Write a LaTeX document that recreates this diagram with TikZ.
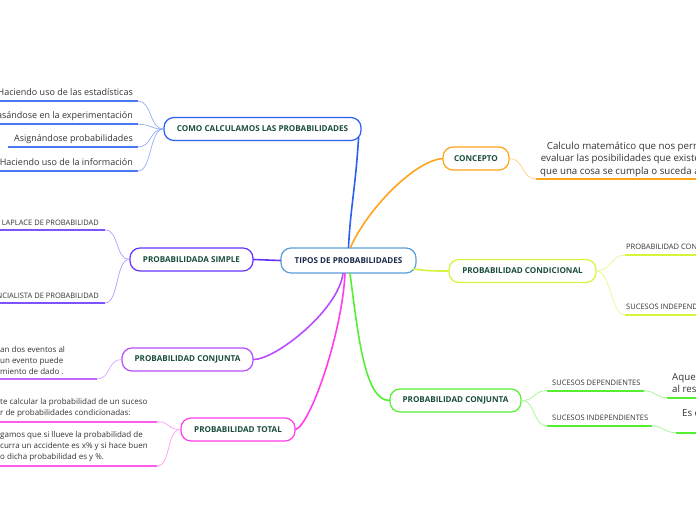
\documentclass[tikz,border=0pt]{standalone}
\usepackage{fontspec}
\setmainfont{Open Sans}
\usetikzlibrary{positioning,calc}
\definecolor{rootblue}{HTML}{5A9FD6}
\definecolor{roottext}{HTML}{1B2A4A}
\definecolor{topictext}{HTML}{1B4D3E}
\definecolor{leafgray}{HTML}{333333}
\definecolor{calcblue}{HTML}{2A5FF0}
\definecolor{concorange}{HTML}{FFA31A}
\definecolor{condyellow}{HTML}{D4F53C}
\definecolor{conjgreen}{HTML}{55EE33}
\definecolor{simpindigo}{HTML}{6633FF}
\definecolor{conjviolet}{HTML}{B84DFF}
\definecolor{totmagenta}{HTML}{FF3DEB}

\begin{document}
\begin{tikzpicture}[
    x=1pt, y=-1pt,
    topicbox/.style={rectangle, draw, fill=white, rounded corners=10pt, line width=1.2pt,
                     minimum height=23pt, inner xsep=6pt, text=topictext,
                     font=\fontsize{8.1}{9}\selectfont\bfseries},
    leaftext/.style={inner sep=0pt, text=leafgray, font=\fontsize{9}{10}\selectfont},
    bigleaf/.style={leaftext, font=\fontsize{9.7}{12}\selectfont},
    capleaf/.style={leaftext, font=\fontsize{7.5}{8}\selectfont},
    paraleaf/.style={leaftext, align=left, font=\fontsize{8}{11}\selectfont},
    branch/.style={line width=1.6pt, line cap=round},
    twig/.style={line width=0.7pt},
    uline/.style={line width=1.8pt},
]
\useasboundingbox (0,0) rectangle (696,520);
\clip (0,0) rectangle (696,520);

% --- Root ---
\node[topicbox, draw=rootblue, text=roottext, minimum width=135pt, minimum height=25pt] (tipos) at (348.5,260.5) {TIPOS DE PROBABILIDADES};

% --- Topics ---
\node[topicbox, draw=calcblue, minimum width=197pt] (como) at (262.5,129) {COMO CALCULAMOS LAS PROBABILIDADES};
\node[topicbox, draw=concorange, minimum width=66pt] (concepto) at (476,158.5) {CONCEPTO};
\node[topicbox, draw=condyellow, minimum width=147pt] (condicional) at (522.5,271) {PROBABILIDAD CONDICIONAL};
\node[topicbox, draw=conjgreen, minimum width=131pt] (conjuntaR) at (455.5,400.5) {PROBABILIDAD CONJUNTA};
\node[topicbox, draw=simpindigo, minimum width=123pt] (simple) at (191.5,259.5) {PROBABILIDADA SIMPLE};
\node[topicbox, draw=conjviolet, minimum width=131pt] (conjuntaL) at (187.5,359.5) {PROBABILIDAD CONJUNTA};
\node[topicbox, draw=totmagenta, minimum width=114pt] (total) at (238,429.5) {PROBABILIDAD TOTAL};

% --- Main branches ---
\draw[branch, calcblue] (tipos.north) .. controls +(2,-40) and +(-3,50) .. ($(como.south east)+(-3,-4)$);
\draw[branch, concorange] ($(tipos.north)+(2,0)$) .. controls +(15,-35) and +(-30,3) .. (concepto.west);
\draw[branch, condyellow] ($(tipos.east)+(-3,8.5)$) .. controls +(15,2) and +(-15,0) .. (condicional.west);
\draw[branch, conjgreen] ($(tipos.south)+(1.5,0)$) .. controls +(8,60) and +(-25,0) .. (conjuntaR.west);
\draw[branch, totmagenta] ($(tipos.south)+(-3.5,0)$) .. controls +(-3,60) and +(15,-5) .. (total.east);
\draw[branch, conjviolet] ($(tipos.south)+(-5.5,0)$) .. controls +(-5,37) and +(22,0) .. (conjuntaL.east);
\draw[branch, simpindigo] (tipos.west) -- (simple.east);

% --- Como calculamos: leaves ---
\coordinate (b1l) at (0,101);  \coordinate (b1r) at (138,101);
\coordinate (b2l) at (0,124.3); \coordinate (b2r) at (138,124.3);
\coordinate (b3l) at (8,147);  \coordinate (b3r) at (138,147);
\coordinate (b4l) at (0,171);  \coordinate (b4r) at (138,171);
\node[leaftext, anchor=base east] (b1) at (133,95) {Haciendo uso de las estadísticas};
\node[leaftext, anchor=base east] (b2) at (133,118.8) {Basándose en la experimentación};
\node[leaftext, anchor=base east] (b3) at (133,141.5) {Asignándose probabilidades};
\node[leaftext, anchor=base east] (b4) at (133,165.5) {Haciendo uso de la información};
\foreach \i in {1,...,4} {
  \draw[uline, calcblue!85] (b\i l) -- (b\i r);
  \draw[twig, calcblue!50] (como.west) .. controls +(-14,0) and +(14,0) .. (b\i r);
}

% --- Probabilidada simple: leaves ---
\coordinate (s1l) at (0,229.7); \coordinate (s1r) at (105,229.7);
\coordinate (s2l) at (0,303);   \coordinate (s2r) at (105,303);
\node[capleaf, anchor=base east] (s1) at (99,225) {LAPLACE DE PROBABILIDAD};
\node[capleaf, anchor=base east] (s2) at (99,298.5) {ENCIALISTA DE PROBABILIDAD};
\foreach \i in {1,2} {
  \draw[uline, simpindigo!85] (s\i l) -- (s\i r);
  \draw[twig, simpindigo!50] (simple.west) .. controls +(-14,0) and +(14,0) .. (s\i r);
}

% --- Probabilidad conjunta (left): leaf ---
\coordinate (j1l) at (0,379); \coordinate (j1r) at (97,379);
\node[paraleaf, anchor=north west] (j1) at (0,345.8) {an dos eventos al\\ un evento puede\\miento de dado .};
\draw[uline, conjviolet!85] (j1l) -- (j1r);
\draw[twig, conjviolet!50] (conjuntaL.west) .. controls +(-14,0) and +(14,0) .. (j1r);

% --- Probabilidad total: leaves ---
\coordinate (t1l) at (0,421.7); \coordinate (t1r) at (157,421.7);
\coordinate (t2l) at (0,466);   \coordinate (t2r) at (157,466);
\node[paraleaf, anchor=north west] (t1) at (0,398.5) {te calcular la probabilidad de un suceso\\r de probabilidades condicionadas:};
\node[paraleaf, anchor=north west] (t2) at (0,431.5) {gamos que si llueve la probabilidad de\\curra un accidente es x\% y si hace buen\\o dicha probabilidad es y \%.};
\foreach \i in {1,2} {
  \draw[uline, totmagenta!85] (t\i l) -- (t\i r);
  \draw[twig, totmagenta!50] (total.west) .. controls +(-14,0) and +(14,0) .. (t\i r);
}

% --- Concepto: leaf ---
\coordinate (c1l) at (536,179); \coordinate (c1r) at (700,179);
\node[bigleaf, anchor=base west] (c1a) at (546.7,149.5) {Calculo matemático que nos permite};
\node[bigleaf, anchor=base west] (c1b) at (540.7,161.8) {evaluar las posibilidades que existen};
\node[bigleaf, anchor=base west] (c1c) at (540,174.1) {que una cosa se cumpla o suceda al azar.};
\draw[uline, concorange] (c1l) -- (c1r);
\draw[twig, concorange!55] (concepto.east) .. controls +(14,0) and +(-14,0) .. (c1l);

% --- Probabilidad condicional: leaves ---
\coordinate (d1l) at (625,255); \coordinate (d1r) at (700,255);
\coordinate (d2l) at (625,315); \coordinate (d2r) at (700,315);
\node[capleaf, anchor=base west] (d1) at (626,249.5) {PROBABILIDAD CONDICIONADA};
\node[capleaf, anchor=base west] (d2) at (626,309.5) {SUCESOS INDEPENDIENTES};
\foreach \i in {1,2} {
  \draw[uline, condyellow] (d\i l) -- (d\i r);
  \draw[twig, condyellow!60] (condicional.east) .. controls +(14,0) and +(-14,0) .. (d\i l);
}

% --- Probabilidad conjunta (right): leaves ---
\coordinate (g1l) at (547,390.7); \coordinate (g1r) at (644,390.7);
\coordinate (g2l) at (547,426);   \coordinate (g2r) at (652,426);
\node[capleaf, anchor=base west] (g1) at (552,385.5) {SUCESOS DEPENDIENTES};
\node[capleaf, anchor=base west] (g2) at (552,420.5) {SUCESOS INDEPENDIENTES};
\foreach \i in {1,2} {
  \draw[uline, conjgreen] (g\i l) -- (g\i r);
  \draw[twig, conjgreen!55] (conjuntaR.east) .. controls +(14,0) and +(-14,0) .. (g\i l);
}
\coordinate (h1l) at (667,397.7); \coordinate (h1r) at (700,397.7);
\coordinate (h2l) at (676,432.7); \coordinate (h2r) at (700,432.7);
\node[bigleaf, anchor=base west] (h1a) at (672,380) {Aquellos};
\node[bigleaf, anchor=base west] (h1b) at (672,392) {al resultado};
\node[bigleaf, anchor=base west] (h2) at (682,416.5) {Es cuando};
\draw[uline, conjgreen] (h1l) -- (h1r);
\draw[uline, conjgreen] (h2l) -- (h2r);
\draw[twig, conjgreen!55] (g1r) .. controls +(12,0) and +(-12,0) .. (h1l);
\draw[twig, conjgreen!55] (g2r) .. controls +(12,0) and +(-12,0) .. (h2l);

\end{tikzpicture}
\end{document}
